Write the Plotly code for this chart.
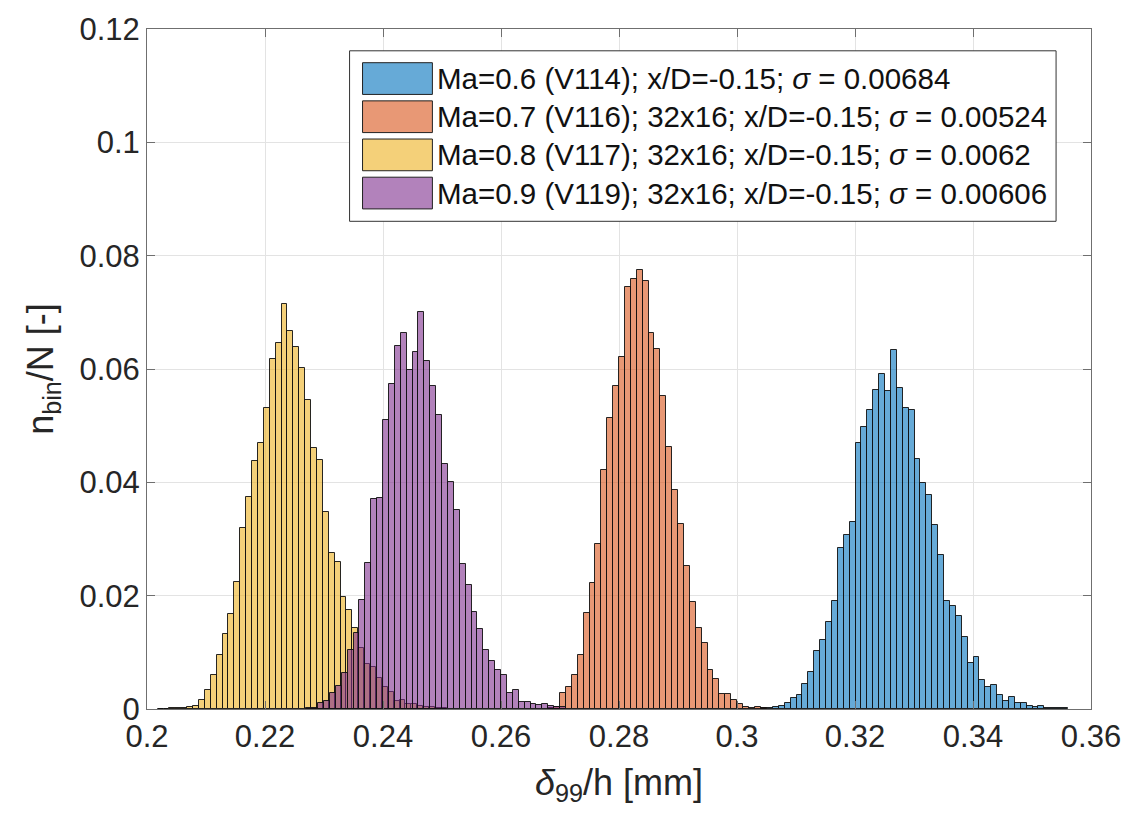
import numpy as np
import plotly.graph_objects as go

# Histogram bin width shared by all series (delta_99/h units)
bin_width = 0.001

# Normalised bin counts n_bin/N, listed from the first bin centre upward
ma06_start = 0.3046
ma06_values = [0.0001, 0.0001, 0.0003, 0.0005, 0.0010, 0.0020, 0.0024, 0.0044, 0.0065, 0.0103,
               0.0122, 0.0154, 0.0191, 0.0285, 0.0307, 0.0330, 0.0469, 0.0498, 0.0527, 0.0563,
               0.0592, 0.0562, 0.0633, 0.0567, 0.0531, 0.0527, 0.0442, 0.0399, 0.0377, 0.0324,
               0.0271, 0.0191, 0.0181, 0.0164, 0.0127, 0.0082, 0.0091, 0.0051, 0.0039, 0.0042,
               0.0024, 0.0015, 0.0021, 0.0010, 0.0011, 0.0006, 0.0003, 0.0006, 0.0002, 0.0001,
               0.0001, 0.0001]

ma07_start = 0.2685
ma07_values = [0.0002, 0.0004, 0.0028, 0.0039, 0.0060, 0.0096, 0.0170, 0.0223, 0.0292, 0.0421,
               0.0514, 0.0570, 0.0622, 0.0744, 0.0758, 0.0774, 0.0755, 0.0664, 0.0635, 0.0552,
               0.0462, 0.0386, 0.0327, 0.0253, 0.0188, 0.0143, 0.0117, 0.0069, 0.0053, 0.0027,
               0.0027, 0.0016, 0.0008, 0.0003, 0.0002, 0.0004, 0.0001]

ma08_start = 0.2023
ma08_values = [0.00005, 0.00005, 0.0001, 0.0001, 0.00015, 0.0003, 0.0005, 0.0016, 0.0034, 0.0060,
               0.0096, 0.0132, 0.0167, 0.0225, 0.0320, 0.0374, 0.0438, 0.0469, 0.0532, 0.0618,
               0.0646, 0.0714, 0.0667, 0.0638, 0.0601, 0.0545, 0.0460, 0.0440, 0.0348, 0.0275,
               0.0260, 0.0197, 0.0174, 0.0143, 0.0107, 0.0080, 0.0075, 0.0055, 0.0038, 0.0030,
               0.0015, 0.0016, 0.0008, 0.0008, 0.0006, 0.0004, 0.0003, 0.0002, 0.0001]

ma09_start = 0.2275
ma09_values = [0.0001, 0.0002, 0.0010, 0.0015, 0.0028, 0.0040, 0.0063, 0.0104, 0.0135, 0.0192,
               0.0257, 0.0370, 0.0372, 0.0510, 0.0574, 0.0641, 0.0663, 0.0599, 0.0630, 0.0700,
               0.0615, 0.0570, 0.0518, 0.0433, 0.0400, 0.0352, 0.0256, 0.0219, 0.0171, 0.0141,
               0.0105, 0.0084, 0.0068, 0.0060, 0.0028, 0.0034, 0.0012, 0.0013, 0.0009, 0.0007,
               0.0008, 0.0006, 0.0004, 0.0003]

series_names = [
    "Ma=0.6 (V114); x/D=-0.15; <i>σ</i> = 0.00684",
    "Ma=0.7 (V116); 32x16; x/D=-0.15; <i>σ</i> = 0.00524",
    "Ma=0.8 (V117); 32x16; x/D=-0.15; <i>σ</i> = 0.0062",
    "Ma=0.9 (V119); 32x16; x/D=-0.15; <i>σ</i> = 0.00606",
]
series_starts = [ma06_start, ma07_start, ma08_start, ma09_start]
series_values = [ma06_values, ma07_values, ma08_values, ma09_values]

x_ticks = [0.2, 0.22, 0.24, 0.26, 0.28, 0.3, 0.32, 0.34, 0.36]
y_ticks = [0, 0.02, 0.04, 0.06, 0.08, 0.1, 0.12]

# MATLAB default colour order, drawn with 60 % face alpha
base_rgb = [(0, 114, 189), (217, 83, 25), (237, 177, 32), (126, 47, 142)]
face_alpha = 0.6

fig = go.Figure()
for name, start, vals, rgb in zip(series_names, series_starts, series_values, base_rgb):
    centers = start + bin_width * np.arange(len(vals))
    fig.add_trace(go.Bar(
        x=centers, y=vals, width=bin_width, name=name, showlegend=False,
        marker=dict(color="rgba(%d,%d,%d,%.2f)" % (rgb + (face_alpha,)),
                    line=dict(color="rgba(15,15,15,0.9)", width=1)),
    ))

font_family = "Liberation Sans, Arial, sans-serif"
axis_col = "#6f6f6f"
text_col = "#262626"

# Plot-area geometry in pixels
W, H = 1133, 819
left, right, top, bottom = 147, 1093, 23, 709
pw, ph = right - left, bottom - top

def px_to_paper(px, py):
    return (px - left) / pw, (bottom - py) / ph

# Legend box drawn with shapes and text
shapes = []
annotations = []
lx0, ly0 = px_to_paper(350, 45)
lx1, ly1 = px_to_paper(1058, 217)
shapes.append(dict(type="rect", xref="paper", yref="paper", x0=lx0, y0=ly1, x1=lx1, y1=ly0,
                   line=dict(color="#333333", width=1), fillcolor="white", layer="above"))
for i, (name, rgb) in enumerate(zip(series_names, base_rgb)):
    cy = 73 + 38.5 * i
    fill = tuple(int(round(255 * (1 - face_alpha) + face_alpha * c)) for c in rgb)
    px0, py0 = px_to_paper(363, cy - 16)
    px1, py1 = px_to_paper(433, cy + 16)
    shapes.append(dict(type="rect", xref="paper", yref="paper", x0=px0, y0=py1, x1=px1, y1=py0,
                       line=dict(color="#222222", width=1), fillcolor="rgb(%d,%d,%d)" % fill,
                       layer="above"))
    tx, ty = px_to_paper(436, cy)
    annotations.append(dict(xref="paper", yref="paper", x=tx, y=ty, xanchor="left",
                            yanchor="middle", text=name, showarrow=False,
                            font=dict(family=font_family, size=29.5, color="#111111")))

fig.update_layout(
    width=W, height=H,
    margin=dict(l=left, r=W - right, t=top, b=H - bottom),
    paper_bgcolor="white", plot_bgcolor="white",
    barmode="overlay", bargap=0,
    font=dict(family=font_family, color=text_col),
    shapes=shapes, annotations=annotations,
    xaxis=dict(
        range=[0.2, 0.36], tickvals=x_ticks, ticktext=["%g" % v for v in x_ticks],
        showgrid=True, gridcolor="#e3e3e3", gridwidth=1,
        showline=True, linecolor=axis_col, linewidth=1, mirror="ticks",
        ticks="inside", ticklen=8, tickcolor=axis_col,
        tickfont=dict(size=31, color=text_col), zeroline=False,
        title=dict(text="<i>δ</i><sub>99</sub>/h [mm]", font=dict(size=36, color=text_col),
                   standoff=16),
    ),
    yaxis=dict(
        range=[0, 0.12], tickvals=y_ticks, ticktext=["%g" % v for v in y_ticks],
        showgrid=True, gridcolor="#e3e3e3", gridwidth=1,
        showline=True, linecolor=axis_col, linewidth=1, mirror="ticks",
        ticks="inside", ticklen=8, tickcolor=axis_col,
        tickfont=dict(size=31, color=text_col), zeroline=False,
        title=dict(text="n<sub>bin</sub>/N [-]", font=dict(size=36, color=text_col),
                   standoff=14),
    ),
)

fig.write_html("out.html")
